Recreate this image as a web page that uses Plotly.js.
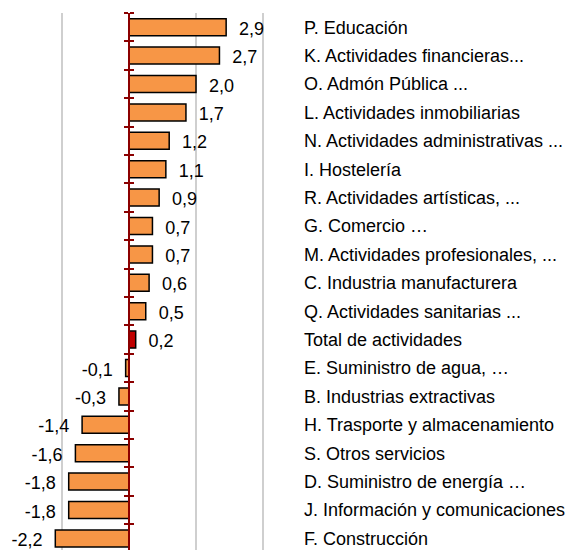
<!DOCTYPE html>
<html>
<head>
<meta charset="utf-8">
<script src="https://cdn.plot.ly/plotly-3.0.1.min.js"></script>
<style>html,body{margin:0;padding:0;background:#fff;}#chart{width:574px;height:550px;}</style>
</head>
<body>
<div id="chart"></div>
<script>
// Categories, top to bottom
const categories = [
  "P. Educación",
  "K. Actividades financieras...",
  "O. Admón Pública ...",
  "L. Actividades inmobiliarias",
  "N. Actividades administrativas ...",
  "I. Hostelería",
  "R. Actividades artísticas, ...",
  "G. Comercio …",
  "M. Actividades profesionales, ...",
  "C. Industria manufacturera",
  "Q. Actividades sanitarias ...",
  "Total de actividades",
  "E. Suministro de agua, …",
  "B. Industrias extractivas",
  "H. Trasporte y almacenamiento",
  "S. Otros servicios",
  "D. Suministro de energía …",
  "J. Información y comunicaciones",
  "F. Construcción"
];
const values = [2.9, 2.7, 2.0, 1.7, 1.2, 1.1, 0.9, 0.7, 0.7, 0.6, 0.5, 0.2, -0.1, -0.3, -1.4, -1.6, -1.8, -1.8, -2.2];
const totalLabel = "Total de actividades";

const W = 574, H = 550;
const zeroPx = 129, unitPx = 33.5, plotRightPx = 295;
const xRange = [-zeroPx / unitPx, (plotRightPx - zeroPx) / unitPx];
const yTop = 13, rowPx = 28.4;
const yBottomIdx = -0.5 + (H - yTop) / rowPx;
const labelShift = 3 / rowPx; // move value labels down a few pixels

const barColors = categories.map(c => c === totalLabel ? "#C00000" : "#F79646");
const labelText = values.map(v => v.toFixed(1).replace(".", ","));
const labelPos = values.map(v => v >= 0 ? "middle right" : "middle left");

const font = {family: "Liberation Sans, Arial, sans-serif", size: 18, color: "#000"};

const traces = [
  {
    type: "bar", orientation: "h",
    x: values, y: categories,
    marker: {color: barColors, line: {color: "#000", width: 1.5}},
    hoverinfo: "skip", xaxis: "x", yaxis: "y"
  },
  {
    type: "scatter", mode: "markers",
    x: values, y: categories,
    marker: {size: 1, opacity: 0},
    hoverinfo: "skip", xaxis: "x", yaxis: "y2"
  },
  {
    type: "scatter", mode: "markers",
    x: values, y: categories,
    marker: {size: 1, opacity: 0},
    hoverinfo: "skip", xaxis: "x", yaxis: "y3"
  },
  {
    type: "scatter", mode: "markers+text",
    x: values, y: categories,
    text: labelText, textposition: labelPos,
    textfont: font,
    marker: {size: 19, opacity: 0},
    hoverinfo: "skip", cliponaxis: false, xaxis: "x", yaxis: "y4"
  }
];

const commonY = {
  type: "category",
  categoryorder: "array", categoryarray: categories,
  autorange: false, range: [yBottomIdx, -0.5],
  showgrid: false, zeroline: false, fixedrange: true
};

const p0 = zeroPx / W;
const layout = {
  width: W, height: H,
  margin: {l: 0, r: 0, t: yTop, b: 0, pad: 0},
  paper_bgcolor: "#fff", plot_bgcolor: "#fff",
  showlegend: false,
  bargap: 0.4,
  font: font,
  xaxis: {
    domain: [0, plotRightPx / W],
    range: xRange, autorange: false,
    tick0: 0, dtick: 2,
    showgrid: true, gridcolor: "#CFCFCF", gridwidth: 1.5,
    zeroline: false, showline: false, showticklabels: false, ticks: "",
    fixedrange: true
  },
  yaxis: Object.assign({}, commonY, {
    anchor: "free", position: p0, side: "left",
    showline: true, linecolor: "#8B0000", linewidth: 2,
    ticks: "outside", tickson: "boundaries", ticklen: 4, tickwidth: 2, tickcolor: "#8B0000",
    showticklabels: false
  }),
  yaxis2: Object.assign({}, commonY, {
    overlaying: "y", matches: "y",
    anchor: "free", position: p0, side: "right",
    showline: false,
    ticks: "outside", tickson: "boundaries", ticklen: 4, tickwidth: 2, tickcolor: "#8B0000",
    showticklabels: false
  }),
  yaxis3: Object.assign({}, commonY, {
    overlaying: "y", matches: "y",
    anchor: "free", position: 303 / W, side: "right",
    showline: false, ticks: "",
    showticklabels: true, tickfont: font
  }),
  yaxis4: Object.assign({}, commonY, {
    overlaying: "y",
    range: [yBottomIdx - labelShift, -0.5 - labelShift],
    anchor: "free", position: p0, side: "left",
    showline: false, ticks: "", showticklabels: false
  })
};

Plotly.newPlot("chart", traces, layout, {displayModeBar: false, staticPlot: true});
</script>
</body>
</html>
